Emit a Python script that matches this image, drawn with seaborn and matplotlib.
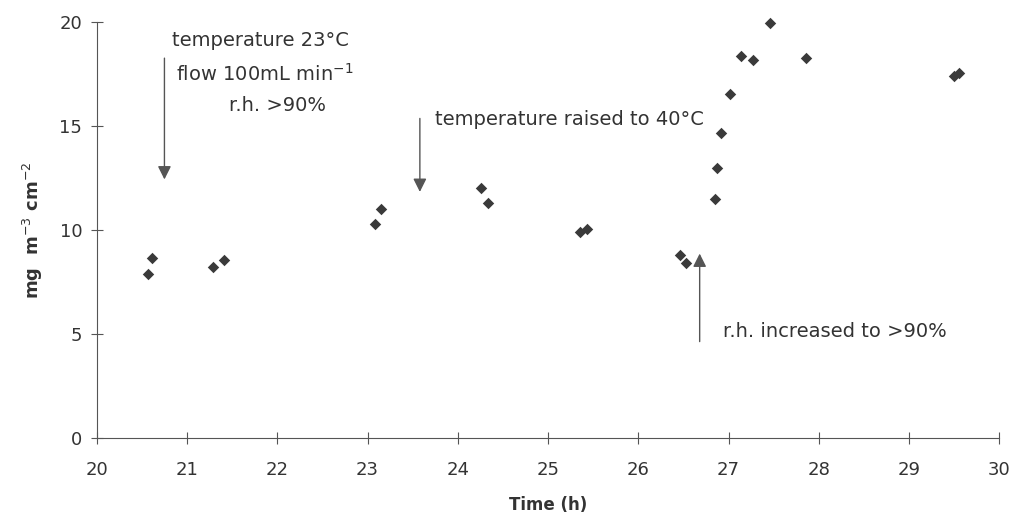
import numpy as np
import pandas as pd
import matplotlib
matplotlib.use("Agg")
import matplotlib.pyplot as plt
import seaborn as sns

# veri: zaman (h) ve konsantrasyon (mg m-3 cm-2)
zaman = [20.57, 20.61, 21.29, 21.41, 23.08, 23.15, 24.26, 24.34,
         25.35, 25.43, 26.46, 26.53, 26.85, 26.87, 26.92, 27.02,
         27.14, 27.27, 27.46, 27.86, 29.50, 29.55]
deger = [7.90, 8.67, 8.24, 8.54, 10.3, 11.0, 12.0, 11.3,
         9.92, 10.06, 8.81, 8.41, 11.5, 12.97, 14.65, 16.55,
         18.37, 18.16, 19.94, 18.28, 17.42, 17.56]

x_ticks = [20, 21, 22, 23, 24, 25, 26, 27, 28, 29, 30]
y_ticks = [0, 5, 10, 15, 20]

df = pd.DataFrame({"Time": zaman, "Value": deger})

sns.set_theme(style="white")
plt.rcParams["font.family"] = ["DejaVu Sans"]

renk = "#3a3a3a"
fig = plt.figure(figsize=(10.13, 5.14), dpi=100)
ax = fig.add_axes([0.0955, 0.148, 0.891, 0.809])

sns.scatterplot(data=df, x="Time", y="Value", marker="D", s=34,
                color=renk, edgecolor=renk, linewidth=0, ax=ax, clip_on=False)

ax.set_xlim(20, 30)
ax.set_ylim(0, 20)
ax.set_xticks(x_ticks)
ax.set_yticks(y_ticks)
ax.tick_params(bottom=True, left=True, direction="inout", length=9, width=0.8,
               colors="#555555", labelsize=13, labelcolor="#333333", pad=6)
ax.tick_params(axis="x", pad=12)
for s in ["top", "right"]:
    ax.spines[s].set_visible(False)
for s in ["left", "bottom"]:
    ax.spines[s].set_color("#555555")
    ax.spines[s].set_linewidth(0.8)

ax.set_xlabel("Time (h)", fontsize=12, fontweight="bold", color="#333333", labelpad=12)
ax.set_ylabel("mg  m$^{-3}$ cm$^{-2}$", fontsize=13, fontweight="bold",
              color="#333333", labelpad=10)

# oklar ve aciklamalar
ok = dict(arrowstyle="-|>", color="#555555", lw=1.0, mutation_scale=20)
ax.annotate("", xy=(20.75, 12.3), xytext=(20.75, 18.4), arrowprops=ok)
ax.annotate("", xy=(23.58, 11.7), xytext=(23.58, 15.5), arrowprops=ok)
ax.annotate("", xy=(26.68, 9.0), xytext=(26.68, 4.5), arrowprops=ok)

metin = dict(fontsize=14, color="#333333", va="center", ha="left")
ax.text(20.83, 19.1, "temperature 23°C", **metin)
ax.text(20.88, 17.5, "flow 100mL min$^{-1}$", **metin)
ax.text(21.47, 16.0, "r.h. >90%", **metin)
ax.text(23.75, 15.3, "temperature raised to 40°C", **metin)
ax.text(26.94, 5.1, "r.h. increased to >90%", **metin)

fig.savefig("out.png", dpi=100)
